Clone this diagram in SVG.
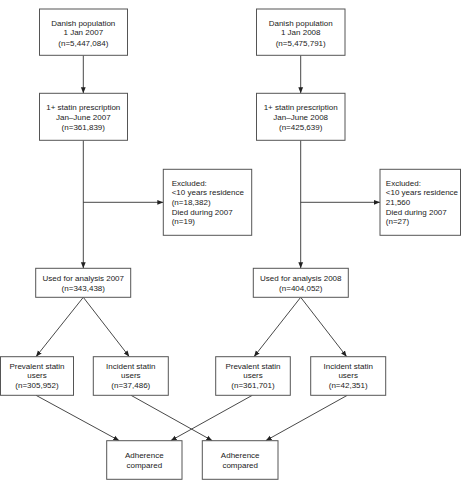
<svg xmlns="http://www.w3.org/2000/svg" width="461" height="483" viewBox="0 0 461 483">
<defs>
<style>
.box{fill:#fff;stroke:#555;stroke-width:1}
.t{font-family:"Liberation Sans",Arial,sans-serif;font-size:8px;fill:#222;text-anchor:middle}
.l{text-anchor:start}
.c{stroke:#333;stroke-width:0.9;fill:none;marker-end:url(#ah)}
</style>
<marker id="ah" markerUnits="userSpaceOnUse" markerWidth="6" markerHeight="6" viewBox="0 0 6 6" refX="6" refY="3" orient="auto">
<path d="M0,0.6 L6,3 L0,5.4 Z" fill="#222"/>
</marker>
</defs>
<rect width="461" height="483" fill="#fff"/>
<g id="connectors">
<line class="c" x1="83.3" y1="55.3" x2="83.3" y2="93.3"/>
<line class="c" x1="83.3" y1="140.3" x2="83.3" y2="268.3"/>
<line class="c" x1="83.3" y1="202.3" x2="163.3" y2="202.3"/>
<line class="c" x1="300.7" y1="55.3" x2="300.7" y2="93.3"/>
<line class="c" x1="300.7" y1="140.3" x2="300.7" y2="268.3"/>
<line class="c" x1="300.7" y1="202.3" x2="380" y2="202.3"/>
<line class="c" x1="83.3" y1="297.3" x2="36" y2="356.7"/>
<line class="c" x1="83.3" y1="297.3" x2="129.3" y2="356.7"/>
<line class="c" x1="300.7" y1="297.3" x2="254" y2="356.7"/>
<line class="c" x1="300.7" y1="297.3" x2="346.7" y2="356.7"/>
<line class="c" x1="36" y1="395.3" x2="119.3" y2="440.7"/>
<line class="c" x1="131" y1="395.3" x2="212.3" y2="440.7"/>
<line class="c" x1="252.3" y1="395.3" x2="170.7" y2="440.7"/>
<line class="c" x1="347.3" y1="395.3" x2="265.7" y2="440.7"/>
</g>
<g id="pop2007">
<rect class="box" x="39.5" y="9" width="88" height="46.3"/>
<text class="t" x="83.3" y="25.7">Danish population</text>
<text class="t" x="83.3" y="35.4">1 Jan 2007</text>
<text class="t" x="83.3" y="45.6">(n=5,447,084)</text>
</g>
<g id="pop2008">
<rect class="box" x="256.5" y="9" width="88.5" height="46.3"/>
<text class="t" x="300.7" y="25.7">Danish population</text>
<text class="t" x="300.7" y="35.4">1 Jan 2008</text>
<text class="t" x="300.7" y="45.6">(n=5,475,791)</text>
</g>
<g id="statin2007">
<rect class="box" x="39.5" y="93.3" width="88" height="47"/>
<text class="t" x="83.3" y="110.2">1+ statin prescription</text>
<text class="t" x="83.3" y="119.7">Jan–June 2007</text>
<text class="t" x="83.3" y="129.9">(n=361,839)</text>
</g>
<g id="statin2008">
<rect class="box" x="256.5" y="93.3" width="88.5" height="47"/>
<text class="t" x="300.7" y="110.2">1+ statin prescription</text>
<text class="t" x="300.7" y="119.7">Jan–June 2008</text>
<text class="t" x="300.7" y="129.9">(n=425,639)</text>
</g>
<g id="excl2007">
<rect class="box" x="163.3" y="169.3" width="88.4" height="66"/>
<text class="t l" x="171.7" y="185.6">Excluded:</text>
<text class="t l" x="171.7" y="195.2">&lt;10 years residence</text>
<text class="t l" x="171.7" y="205">(n=18,382)</text>
<text class="t l" x="171.7" y="214.6">Died during 2007</text>
<text class="t l" x="171.7" y="224.2">(n=19)</text>
</g>
<g id="excl2008">
<rect class="box" x="380" y="169.3" width="80.5" height="66"/>
<text class="t l" x="385.8" y="185.6">Excluded:</text>
<text class="t l" x="385.8" y="195.2">&lt;10 years residence</text>
<text class="t l" x="385.8" y="205">21,560</text>
<text class="t l" x="385.8" y="214.6">Died during 2007</text>
<text class="t l" x="385.8" y="224.2">(n=27)</text>
</g>
<g id="used2007">
<rect class="box" x="35.7" y="268.3" width="95" height="29"/>
<text class="t" x="83.3" y="281">Used for analysis 2007</text>
<text class="t" x="83.3" y="290.6">(n=343,438)</text>
</g>
<g id="used2008">
<rect class="box" x="253.3" y="268.3" width="95" height="29"/>
<text class="t" x="300.8" y="281">Used for analysis 2008</text>
<text class="t" x="300.8" y="290.6">(n=404,052)</text>
</g>
<g id="prev2007">
<rect class="box" x="0.5" y="356.7" width="73" height="38.6"/>
<text class="t" x="37" y="368.6">Prevalent statin</text>
<text class="t" x="37" y="378.2">users</text>
<text class="t" x="37" y="387.9">(n=305,952)</text>
</g>
<g id="inc2007">
<rect class="box" x="93.3" y="356.7" width="75" height="38.6"/>
<text class="t" x="130.8" y="368.6">Incident statin</text>
<text class="t" x="130.8" y="378.2">users</text>
<text class="t" x="130.8" y="387.9">(n=37,486)</text>
</g>
<g id="prev2008">
<rect class="box" x="215.7" y="356.7" width="74.6" height="38.6"/>
<text class="t" x="253" y="368.6">Prevalent statin</text>
<text class="t" x="253" y="378.2">users</text>
<text class="t" x="253" y="387.9">(n=361,701)</text>
</g>
<g id="inc2008">
<rect class="box" x="310.7" y="356.7" width="75" height="38.6"/>
<text class="t" x="348.2" y="368.6">Incident statin</text>
<text class="t" x="348.2" y="378.2">users</text>
<text class="t" x="348.2" y="387.9">(n=42,351)</text>
</g>
<g id="adh1">
<rect class="box" x="106.7" y="440.7" width="75.3" height="38.6"/>
<text class="t" x="144.3" y="457.9">Adherence</text>
<text class="t" x="144.3" y="467.6">compared</text>
</g>
<g id="adh2">
<rect class="box" x="202.3" y="440.7" width="75.7" height="38.6"/>
<text class="t" x="240.2" y="457.9">Adherence</text>
<text class="t" x="240.2" y="467.6">compared</text>
</g>
</svg>
